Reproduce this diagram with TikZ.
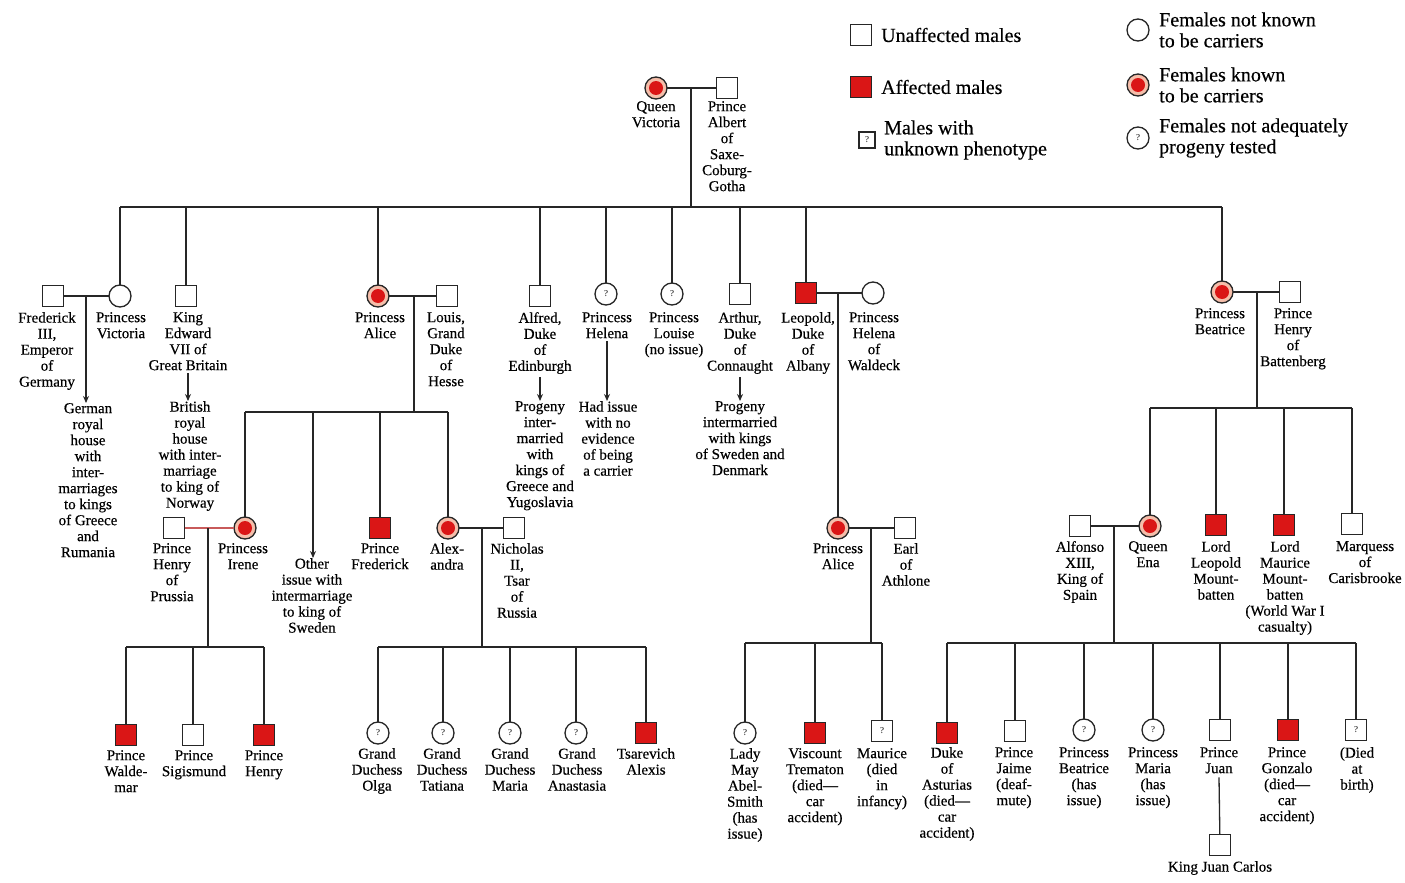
\documentclass[tikz,border=0pt]{standalone}
\usepackage{fontspec}
\setmainfont{Liberation Serif}
\newfontfamily\lbfam{Liberation Serif}[FakeBold=0.4,Ligatures=TeX]
\usetikzlibrary{arrows.meta}
\definecolor{affred}{RGB}{218,22,22}
\definecolor{ringpink}{RGB}{245,190,170}
\definecolor{pinkline}{RGB}{200,90,90}
\newcommand\lbfont{\lbfam\fontsize{15}{16}\selectfont}
\newcommand\lgfont{\lbfam\fontsize{20}{21}\selectfont}
\newcommand\qfont{\fontsize{9}{9}\selectfont}
\begin{document}
\begin{tikzpicture}[x=1pt,y=-1pt,
  rel/.style={line width=1.3pt, draw=black!85},
  sym/.style={line width=1.3pt, draw=black!85, inner sep=0pt, outer sep=0pt, text=black},
  male/.style={sym, rectangle, minimum size=21pt, fill=white},
  affm/.style={male, fill=affred},
  unkm/.style={male, font=\qfont},
  female/.style={sym, circle, minimum size=22pt, fill=white},
  carrier/.style={female, fill=ringpink, path picture={\fill[affred] (path picture bounding box.center) circle[radius=7pt];}},
  unkf/.style={female, font=\qfont},
  lbl/.style={align=center, anchor=north, inner sep=0pt, font=\lbfont},
  lgt/.style={align=left, anchor=west, inner sep=0pt, font=\lgfont},
  arr/.style={rel, -{Stealth[length=7pt,width=6pt]}},
]
\fill[white] (0,0) rectangle (1405,883);
\useasboundingbox (0,0) rectangle (1405,883);

% ---------- legend ----------
\node[male] (lg1) at (861,35) {};
\node[lgt] (lg1t) at (881,35) {Unaffected males};
\node[affm] (lg2) at (861,87) {};
\node[lgt] (lg2t) at (881,87) {Affected males};
\node[unkm, minimum size=16pt] (lg3) at (867,140) {?};
\node[lgt] (lg3t) at (884,140) {Males with\\unknown phenotype};
\node[female] (lg4) at (1138,30) {};
\node[lgt] (lg4t) at (1159,30) {Females not known\\to be carriers};
\node[carrier] (lg5) at (1138,85) {};
\node[lgt] (lg5t) at (1159,85) {Females known\\to be carriers};
\node[unkf] (lg6) at (1138,138) {?};
\node[lgt] (lg6t) at (1159,138) {Females not adequately\\progeny tested};

% ---------- generation I ----------
\node[carrier] (qv) at (656,88) {};
\node[male] (pa) at (727,88) {};
\node[lbl] (qvl) at (656,101) {Queen\\Victoria};
\node[lbl] (pal) at (727,101) {Prince\\Albert\\of\\Saxe-\\Coburg-\\Gotha};
\draw[rel] (qv) -- (pa);
\coordinate (d1) at (691,88);
\coordinate (s1a) at (120,207);
\coordinate (s1b) at (1222,207);
\draw[rel] (d1) -- (d1 |- s1a);
\draw[rel] (s1a) -- (s1b);

% ---------- generation II ----------
\node[male] (fred) at (53,296) {};
\node[female] (pvic) at (120,296) {};
\node[male] (edw) at (186,296) {};
\node[carrier] (alice) at (378,296) {};
\node[male] (louis) at (447,296) {};
\node[male] (alf) at (540,296) {};
\node[unkf] (hel) at (606,294) {?};
\node[unkf] (lou) at (672,294) {?};
\node[male] (art) at (740,294) {};
\node[affm] (leo) at (806,293) {};
\node[female] (waldeck) at (873,293) {};
\node[carrier] (bea) at (1222,292) {};
\node[male] (hbat) at (1290,292) {};

\foreach \n in {pvic,edw,alice,alf,hel,lou,art,leo,bea}
  \draw[rel] (\n) -- (\n |- s1a);

\node[lbl] (fredl) at (47,312) {Frederick\\III,\\Emperor\\of\\Germany};
\node[lbl] (pvicl) at (121,312) {Princess\\Victoria};
\node[lbl] (edwl) at (188,312) {King\\Edward\\VII of\\Great Britain};
\node[lbl] (alicel) at (380,312) {Princess\\Alice};
\node[lbl] (louisl) at (446,312) {Louis,\\Grand\\Duke\\of\\Hesse};
\node[lbl] (alfl) at (540,312) {Alfred,\\Duke\\of\\Edinburgh};
\node[lbl] (hell) at (607,312) {Princess\\Helena};
\node[lbl] (loul) at (674,312) {Princess\\Louise\\(no issue)};
\node[lbl] (artl) at (740,312) {Arthur,\\Duke\\of\\Connaught};
\node[lbl] (leol) at (808,312) {Leopold,\\Duke\\of\\Albany};
\node[lbl] (waldeckl) at (874,312) {Princess\\Helena\\of\\Waldeck};
\node[lbl] (beal) at (1220,308) {Princess\\Beatrice};
\node[lbl] (hbatl) at (1293,308) {Prince\\Henry\\of\\Battenberg};

% descendants described in text
\node[lbl] (german) at (88,403) {German\\royal\\house\\with\\inter-\\marriages\\to kings\\of Greece\\and\\Rumania};
\node[lbl] (british) at (190,401) {British\\royal\\house\\with inter-\\marriage\\to king of\\Norway};
\node[lbl] (alfp) at (540,401) {Progeny\\inter-\\married\\with\\kings of\\Greece and\\Yugoslavia};
\node[lbl] (help) at (608,401) {Had issue\\with no\\evidence\\of being\\a carrier};
\node[lbl] (artp) at (740,401) {Progeny\\intermarried\\with kings\\of Sweden and\\Denmark};

\draw[rel] (fred) -- (pvic);
\coordinate (m2) at (86,296);
\draw[arr] (m2) -- (m2 |- german.north);
\draw[arr] (edwl.south) ++(0,3) -- (edwl.south |- british.north);
\draw[arr] (alfl.south) ++(0,3) -- (alfl.south |- alfp.north);
\draw[arr] (hell.south) ++(0,3) -- (hell.south |- help.north);
\draw[arr] (artl.south) ++(0,3) -- (artl.south |- artp.north);

% ---------- Alice of Hesse branch ----------
\draw[rel] (alice) -- (louis);
\coordinate (m3) at (414,296);
\coordinate (s3a) at (245,412);
\coordinate (s3b) at (448,412);
\draw[rel] (m3) -- (m3 |- s3a);
\draw[rel] (s3a) -- (s3b);

\node[carrier] (irene) at (245,528) {};
\node[male] (hpru) at (174,528) {};
\node[affm] (pfred) at (380,528) {};
\node[carrier] (alex) at (448,528) {};
\node[male] (nich) at (514,528) {};
\coordinate (oth) at (313,412);
\node[lbl] (other) at (312,558) {Other\\issue with\\intermarriage\\to king of\\Sweden};
\draw[arr] (oth) -- (oth |- other.north);
\foreach \n in {irene,pfred,alex}
  \draw[rel] (\n) -- (\n |- s3a);

\node[lbl] (hprul) at (172,543) {Prince\\Henry\\of\\Prussia};
\node[lbl] (irenel) at (243,543) {Princess\\Irene};
\node[lbl] (pfredl) at (380,543) {Prince\\Frederick};
\node[lbl] (alexl) at (447,543) {Alex-\\andra};
\node[lbl] (nichl) at (517,543) {Nicholas\\II,\\Tsar\\of\\Russia};

% Irene x Henry of Prussia
\draw[rel, draw=pinkline] (hpru) -- (irene);
\coordinate (m4) at (208,528);
\coordinate (s4a) at (126,647);
\coordinate (s4b) at (264,647);
\draw[rel] (m4) -- (m4 |- s4a);
\draw[rel] (s4a) -- (s4b);
\node[affm] (walde) at (126,735) {};
\node[male] (sigis) at (193,735) {};
\node[affm] (phenry) at (264,735) {};
\foreach \n in {walde,sigis,phenry}
  \draw[rel] (\n) -- (\n |- s4a);
\node[lbl] (waldel) at (126,750) {Prince\\Walde-\\mar};
\node[lbl] (sigisl) at (194,750) {Prince\\Sigismund};
\node[lbl] (phenryl) at (264,750) {Prince\\Henry};

% Alexandra x Nicholas II
\draw[rel] (alex) -- (nich);
\coordinate (m5) at (482,528);
\coordinate (s5a) at (378,647);
\coordinate (s5b) at (646,647);
\draw[rel] (m5) -- (m5 |- s5a);
\draw[rel] (s5a) -- (s5b);
\node[unkf] (olga) at (378,733) {?};
\node[unkf] (tati) at (443,733) {?};
\node[unkf] (maria) at (510,733) {?};
\node[unkf] (anas) at (576,733) {?};
\node[affm] (alexis) at (646,733) {};
\foreach \n in {olga,tati,maria,anas,alexis}
  \draw[rel] (\n) -- (\n |- s5a);
\node[lbl] (olgal) at (377,748) {Grand\\Duchess\\Olga};
\node[lbl] (tatil) at (442,748) {Grand\\Duchess\\Tatiana};
\node[lbl] (marial) at (510,748) {Grand\\Duchess\\Maria};
\node[lbl] (anasl) at (577,748) {Grand\\Duchess\\Anastasia};
\node[lbl] (alexisl) at (646,748) {Tsarevich\\Alexis};

% ---------- Leopold branch ----------
\draw[rel] (leo) -- (waldeck);
\coordinate (m6) at (838,293);
\node[carrier] (alice2) at (838,528) {};
\node[male] (athl) at (905,528) {};
\draw[rel] (m6) -- (alice2);
\node[lbl] (alice2l) at (838,543) {Princess\\Alice};
\node[lbl] (athll) at (906,543) {Earl\\of\\Athlone};
\draw[rel] (alice2) -- (athl);
\coordinate (m7) at (871,528);
\coordinate (s7a) at (745,643);
\coordinate (s7b) at (882,643);
\draw[rel] (m7) -- (m7 |- s7a);
\draw[rel] (s7a) -- (s7b);
\node[unkf] (may) at (745,733) {?};
\node[affm] (trem) at (815,733) {};
\node[unkm] (maur) at (882,731) {?};
\foreach \n in {may,trem,maur}
  \draw[rel] (\n) -- (\n |- s7a);
\node[lbl] (mayl) at (745,748) {Lady\\May\\Abel-\\Smith\\(has\\issue)};
\node[lbl] (treml) at (815,748) {Viscount\\Trematon\\(died—\\car\\accident)};
\node[lbl] (maurl) at (882,748) {Maurice\\(died\\in\\infancy)};

% ---------- Beatrice branch ----------
\draw[rel] (bea) -- (hbat);
\coordinate (m8) at (1257,292);
\coordinate (s8a) at (1150,408);
\coordinate (s8b) at (1352,408);
\draw[rel] (m8) -- (m8 |- s8a);
\draw[rel] (s8a) -- (s8b);
\node[carrier] (ena) at (1150,526) {};
\node[male] (alfon) at (1080,526) {};
\node[affm] (lleo) at (1216,525) {};
\node[affm] (lmau) at (1284,525) {};
\node[male] (marq) at (1352,524) {};
\foreach \n in {ena,lleo,lmau,marq}
  \draw[rel] (\n) -- (\n |- s8a);
\node[lbl] (alfonl) at (1080,541) {Alfonso\\XIII,\\King of\\Spain};
\node[lbl] (enal) at (1148,541) {Queen\\Ena};
\node[lbl] (lleol) at (1216,541) {Lord\\Leopold\\Mount-\\batten};
\node[lbl] (lmaul) at (1285,541) {Lord\\Maurice\\Mount-\\batten\\(World War I\\casualty)};
\node[lbl] (marql) at (1365,541) {Marquess\\of\\Carisbrooke};

\draw[rel] (alfon) -- (ena);
\coordinate (m9) at (1114,526);
\coordinate (s9a) at (947,643);
\coordinate (s9b) at (1356,643);
\draw[rel] (m9) -- (m9 |- s9a);
\draw[rel] (s9a) -- (s9b);
\node[affm] (astu) at (947,733) {};
\node[male] (jaime) at (1015,731) {};
\node[unkf] (pbea) at (1084,730) {?};
\node[unkf] (pmar) at (1153,730) {?};
\node[male] (juan) at (1220,730) {};
\node[affm] (gonz) at (1288,730) {};
\node[unkm] (died) at (1356,730) {?};
\foreach \n in {astu,jaime,pbea,pmar,juan,gonz,died}
  \draw[rel] (\n) -- (\n |- s9a);
\node[lbl] (astul) at (947,747) {Duke\\of\\Asturias\\(died—\\car\\accident)};
\node[lbl] (jaimel) at (1014,747) {Prince\\Jaime\\(deaf-\\mute)};
\node[lbl] (pbeal) at (1084,747) {Princess\\Beatrice\\(has\\issue)};
\node[lbl] (pmarl) at (1153,747) {Princess\\Maria\\(has\\issue)};
\node[lbl] (juanl) at (1219,747) {Prince\\Juan};
\node[lbl] (gonzl) at (1287,747) {Prince\\Gonzalo\\(died—\\car\\accident)};
\node[lbl] (diedl) at (1357,747) {(Died\\at\\birth)};

\node[male] (jc) at (1220,845) {};
\node[lbl] (jcl) at (1220,861) {King Juan Carlos};
\draw[rel] (juanl.south) ++(0,4) -- (jc);
\end{tikzpicture}
\end{document}
